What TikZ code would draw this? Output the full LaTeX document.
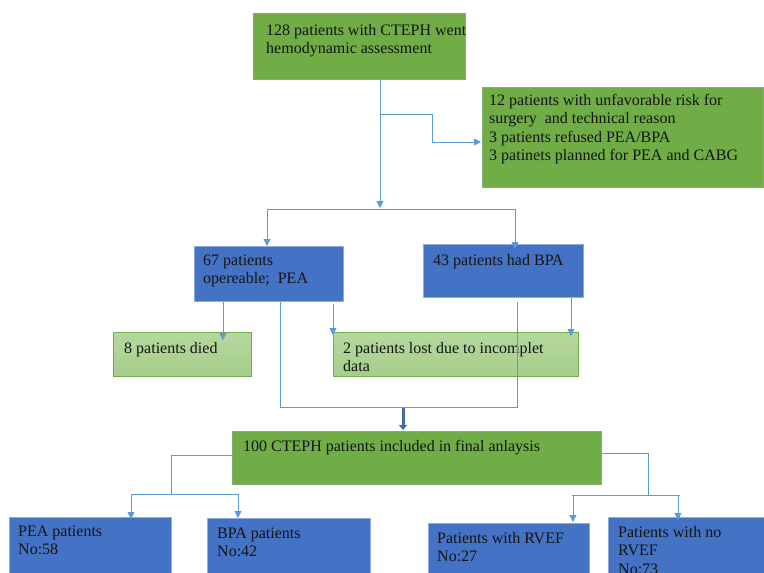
\documentclass[tikz,border=0pt]{standalone}
\usepackage{fontspec}
\setmainfont{Liberation Serif}
\usetikzlibrary{arrows.meta,calc}
\definecolor{grn}{HTML}{70AD47}
\definecolor{grnedge}{HTML}{86AE6C}
\definecolor{blu}{HTML}{4472C4}
\definecolor{bluedge}{HTML}{8FAADC}
\definecolor{lgtop}{HTML}{B5D89E}
\definecolor{lgbot}{HTML}{A6CE8B}
\definecolor{conncol}{HTML}{5B9BD5}
\definecolor{darkarr}{HTML}{3E6EA5}
\definecolor{ink}{HTML}{141414}
\begin{document}
\begin{tikzpicture}[x=1pt,y=-1pt,
  gbox/.style={rectangle, anchor=north west, inner sep=0pt, fill=grn, draw=grnedge, line width=0.8pt},
  bbox/.style={rectangle, anchor=north west, inner sep=0pt, fill=blu, draw=bluedge, line width=0.8pt},
  lbox/.style={rectangle, anchor=north west, inner sep=0pt, top color=lgtop, bottom color=lgbot, draw=grn, line width=0.8pt},
  txt/.style={anchor=base west, inner sep=0pt, text=ink, font=\fontsize{16}{18.6}\selectfont},
  conn/.style={draw=conncol, line width=0.9pt},
  arr/.style={conn, -{Triangle[width=7pt,length=7pt]}},
  bigarr/.style={draw=darkarr, line width=3pt, -{Triangle[width=8pt,length=5pt]}}]
\useasboundingbox (0,0) rectangle (764,573);
\clip (0,0) rectangle (764,573);

% boxes
\node[gbox, minimum width=212pt, minimum height=66pt] (top) at (253,13) {};
\node[gbox, minimum width=281pt, minimum height=100pt] (excl) at (482,87) {};
\node[bbox, minimum width=149pt, minimum height=55pt] (pea67) at (194,246) {};
\node[bbox, minimum width=160pt, minimum height=53pt] (bpa43) at (423,244) {};
\node[lbox, minimum width=138pt, minimum height=44pt] (died) at (113,332) {};
\node[lbox, minimum width=245pt, minimum height=44pt] (lost) at (333,332) {};
\node[gbox, minimum width=369pt, minimum height=53pt] (final) at (232,431) {};
\node[bbox, minimum width=162pt, minimum height=70pt] (peaN) at (9,517) {};
\node[bbox, minimum width=163pt, minimum height=70pt] (bpaN) at (207,518) {};
\node[bbox, minimum width=161pt, minimum height=70pt] (rvef) at (428,523) {};
\node[bbox, minimum width=170pt, minimum height=70pt] (norvef) at (608,517) {};

% texts
\node[txt] (ttop) at (266,35) {\vtop{\hbox{128 patients with CTEPH went}\hbox{hemodynamic assessment}}};
\node[txt] (texcl) at (489,105) {\vtop{\hbox{12 patients with unfavorable risk for}\hbox{surgery\ \ and technical reason}\hbox{3 patients refused PEA/BPA}\hbox{3 patinets planned for PEA and CABG}}};
\node[txt] (tpea67) at (203,265) {\vtop{\hbox{67 patients}\hbox{opereable;\ \ PEA}}};
\node[txt] (tbpa43) at (433,265) {43 patients had BPA};
\node[txt] (tdied) at (124,353) {8 patients died};
\node[txt] (tlost) at (343,353) {\vtop{\hbox{2 patients lost due to incomplet}\hbox{data}}};
\node[txt] (tfinal) at (243,451) {100 CTEPH patients included in final anlaysis};
\node[txt] (tpeaN) at (18,536) {\vtop{\hbox{PEA patients}\hbox{No:58}}};
\node[txt] (tbpaN) at (217,538) {\vtop{\hbox{BPA patients}\hbox{No:42}}};
\node[txt] (trvef) at (437,543) {\vtop{\hbox{Patients with RVEF}\hbox{No:27}}};
\node[txt] (tnorvef) at (618,537) {\vtop{\hbox{Patients with no}\hbox{RVEF}\hbox{No:73}}};

% junction coordinates
\coordinate (j1) at (380,208);
\coordinate (b1) at (380,114);
\coordinate (b2) at (432,114);
\coordinate (b3) at (432,142);
\coordinate (hL) at (267,209);
\coordinate (hR) at (515,209);
\coordinate (mL) at (280,407);
\coordinate (mR) at (517,407);
\coordinate (mc) at (403,408);
\coordinate (fl) at (171,455);
\coordinate (fl2) at (171,494);
\coordinate (gL) at (131,494);
\coordinate (gR) at (238,494);
\coordinate (fr) at (648,453);
\coordinate (fr2) at (648,495);
\coordinate (kL) at (572,495);
\coordinate (kR) at (680,495);
\coordinate (kA) at (573,495);
\coordinate (kB) at (678,495);

% connectors
\draw[arr] (top.south -| j1) -- (j1);
\draw[arr] (b1) -- (b2) -- (b3) -- ($(excl.west |- b3)+(-1,0)$);
\draw[conn] (hL) -- (hR);
\draw[arr] (hL) -- (pea67.north -| hL);
\draw[arr] (hR) -- ($(bpa43.north -| hR)+(0,5)$);
\draw[arr] ($(pea67.south west)+(29,0)$) -- ($(died.north west)+(110,8)$);
\draw[arr] ($(pea67.south west)+(139,2)$) -- ($(lost.north west)+(0,3)$);
\draw[arr] ($(bpa43.south west)+(148,0)$) -- ($(lost.north west)+(238,4)$);
\draw[conn] ($(pea67.south west)+(86,0)$) -- (mL) -- (mR) -- ($(bpa43.south west)+(94,4)$);
\draw[bigarr] (mc) -- ($(final.north -| mc)+(0,-1)$);
\draw[conn] (final.west |- fl) -- (fl) -- (fl2);
\draw[conn] (gL) -- (gR);
\draw[arr] (gL) -- ($(peaN.north -| gL)+(0,2)$);
\draw[arr] (gR) -- (bpaN.north -| gR);
\draw[conn] (final.east |- fr) -- (fr) -- (fr2);
\draw[conn] (kL) -- (kR);
\draw[arr] (kA) -- ($(rvef.north -| kA)+(0,-1)$);
\draw[arr] (kB) -- ($(norvef.north -| kB)+(0,3)$);
\end{tikzpicture}
\end{document}
